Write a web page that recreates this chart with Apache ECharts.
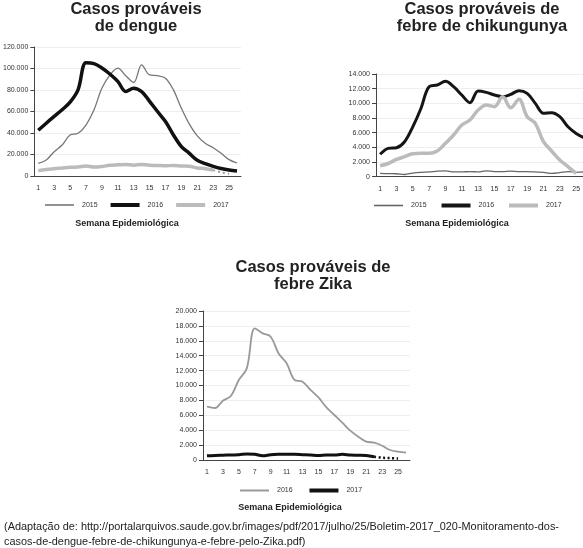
<!DOCTYPE html>
<html><head><meta charset="utf-8">
<script src="https://cdn.jsdelivr.net/npm/echarts@6/dist/echarts.min.js"></script>
<style>html,body{margin:0;padding:0;background:#fff;overflow:hidden;width:583px;height:548px}#c{width:600px;height:548px}</style>
</head><body><div id="c"></div>
<script>
const weeks = ['1','2','3','4','5','6','7','8','9','10','11','12','13','14','15','16','17','18','19','20','21','22','23','24','25','26'];

const dengue2015 = [11800,14900,22600,28800,38100,39700,47400,61400,81600,93900,100300,93300,87000,103400,94000,93300,91000,80100,63000,48300,37400,30500,26300,21100,15200,12100];
const dengue2016 = [42500,49100,55400,61600,68700,80200,105300,104500,100500,94900,88000,78700,81700,78500,69500,60000,50600,38200,27400,21100,14600,11500,9000,7000,5600,4700];
const dengue2017 = [5000,6000,6800,7500,8200,8300,9200,8300,8800,10000,10400,10800,10000,10800,10000,9800,9500,9800,9300,9000,7500,6800,5500];
const dengue2017Tail = [null,null,null,null,null,null,null,null,null,null,null,null,null,null,null,null,null,null,null,null,null,null,5500,3500,2000];

const chik2015 = [450,420,400,300,500,600,650,750,800,650,650,700,650,800,700,700,750,700,700,650,600,450,550,700,600,650];
const chik2016 = [3050,3860,3950,4770,6800,9300,12270,12500,13000,12270,11140,10090,11680,11500,11140,10900,11230,11730,11360,10000,8640,8730,8180,6800,5900,5300];
const chik2017 = [1500,1800,2360,2730,3140,3180,3180,3500,4550,5680,7050,7730,9090,9770,9550,10900,9400,10550,8180,7270,4770,3500,2270,1360,450];

const zika2016 = [7160,6980,7960,8590,10740,12300,17670,17000,16550,14300,12980,10740,10510,9400,8400,7070,6040,5010,3940,3130,2460,2330,1920,1340,1120,980];
const zika2017 = [560,620,650,680,700,820,760,560,700,760,780,760,720,680,620,680,660,760,660,640,600,450];
const zika2017Tail = [null,null,null,null,null,null,null,null,null,null,null,null,null,null,null,null,null,null,null,null,null,450,300,250,200];

const titles = ['Casos prováveis\nde dengue','Casos prováveis de\nfebre de chikungunya','Casos prováveis de\nfebre Zika'];
const xName = 'Semana Epidemiológica';
const source = '(Adaptação de: http://portalarquivos.saude.gov.br/images/pdf/2017/julho/25/Boletim-2017_020-Monitoramento-dos-\ncasos-de-dengue-febre-de-chikungunya-e-febre-pelo-Zika.pdf)';

const FONT = '"Liberation Sans", Arial, sans-serif';
const fmt = v => String(v).replace(/\B(?=(\d{3})+(?!\d))/g, '.');
const THIN = 'path://M0,0h29v1.6h-29z';
const MED = 'path://M0,0h29v2h-29z';
const THICK = 'path://M0,0h29v4h-29z';

const grids = [
  {left:32, top:47, width:209, height:129},
  {left:376, top:74, width:212.4, height:102.7},
  {left:203, top:311, width:207, height:149}
];
const yMax = [120000, 14000, 20000];
const yInt = [20000, 2000, 2000];

function xAxis(i){
  return {type:'category', gridIndex:i, data:weeks, boundaryGap:true,
    axisLine:{lineStyle:{color:'#444', width:1}}, axisTick:{show:false},
    axisLabel:{interval:1, color:'#333', fontSize:7, fontFamily:FONT, margin:9}};
}
function yAxis(i){
  return {type:'value', gridIndex:i, min:0, max:yMax[i], interval:yInt[i],
    axisLine:{show:true, lineStyle:{color:'#444', width:1}},
    axisTick:{show:true, length:4, lineStyle:{color:'#444'}},
    splitLine:{lineStyle:{color:'#eeeeee', width:1}},
    axisLabel:{color:'#333', fontSize:7, fontFamily:FONT, margin:6, formatter:fmt}};
}
function line(name, data, i, color, width, extra){
  return Object.assign({type:'line', name:name, data:data, xAxisIndex:i, yAxisIndex:i,
    smooth:0.35, symbol:'none', lineStyle:{color:color, width:width}, itemStyle:{color:color},
    connectNulls:false, legendHoverLink:false, silent:true}, extra||{});
}
function legend(items, left, top){
  return {show:true, left:left, top:top, padding:0, orient:'horizontal', itemWidth:29, itemHeight:8, itemGap:13,
    symbolKeepAspect:true,
    data:items.map(it => ({name:it[0], icon:it[1], itemStyle:{color:it[2], borderWidth:0}})),
    textStyle:{fontSize:7, color:'#333', fontFamily:FONT, padding:[0,0,0,3]},
    selectedMode:false};
}

const option = {
  animation:false,
  grid: grids,
  xAxis: [xAxis(0), xAxis(1), xAxis(2)],
  yAxis: [yAxis(0), yAxis(1), yAxis(2)],
  legend: [
    legend([['2015',THIN,'#777777'],['2016',THICK,'#111111'],['2017',THICK,'#bbbbbb']], 45, 201.5),
    legend([['2015 ',THIN,'#666666'],['2016 ',THICK,'#151515'],['2017 ',THICK,'#bbbbbb']], 374, 202),
    legend([['2016  ',MED,'#999999'],['2017  ',THICK,'#111111']], 240, 487)
  ],
  series: [
    line('2015', dengue2015, 0, '#777777', 1.3),
    line('2016', dengue2016, 0, '#111111', 3.5),
    line('2017', dengue2017, 0, '#bbbbbb', 3.5),
    line('d17tail', dengue2017Tail, 0, '#999999', 2, {lineStyle:{color:'#999999', width:2, type:[2,3]}}),
    line('2015 ', chik2015, 1, '#666666', 1.3),
    line('2016 ', chik2016, 1, '#151515', 3),
    line('2017 ', chik2017, 1, '#bbbbbb', 3.5),
    line('2016  ', zika2016, 2, '#999999', 1.8),
    line('2017  ', zika2017, 2, '#111111', 3),
    line('z17tail', zika2017Tail, 2, '#111111', 2.5, {lineStyle:{color:'#111111', width:2.5, type:[2,2.5]}})
  ],
  graphic: [
    {type:'text', x:136, y:1, style:{text:titles[0], align:'center', verticalAlign:'top', fontSize:16.5, fontWeight:'bold', fontFamily:FONT, lineHeight:17, fill:'#222'}},
    {type:'text', x:482, y:1, style:{text:titles[1], align:'center', verticalAlign:'top', fontSize:16.5, fontWeight:'bold', fontFamily:FONT, lineHeight:17, fill:'#222'}},
    {type:'text', x:313, y:259, style:{text:titles[2], align:'center', verticalAlign:'top', fontSize:16.5, fontWeight:'bold', fontFamily:FONT, lineHeight:17, fill:'#222'}},
    {type:'text', x:127, y:219, style:{text:xName, align:'center', verticalAlign:'top', fontSize:9, fontWeight:'bold', fontFamily:FONT, fill:'#222'}},
    {type:'text', x:457, y:219, style:{text:xName, align:'center', verticalAlign:'top', fontSize:9, fontWeight:'bold', fontFamily:FONT, fill:'#222'}},
    {type:'text', x:290, y:503, style:{text:xName, align:'center', verticalAlign:'top', fontSize:9, fontWeight:'bold', fontFamily:FONT, fill:'#222'}},
    {type:'text', x:4, y:520, style:{text:source, align:'left', verticalAlign:'top', fontSize:10.9, fontFamily:FONT, lineHeight:14.5, fill:'#222'}}
  ]
};
const chart = echarts.init(document.getElementById('c'), null, {renderer:'canvas'});
chart.setOption(option);
</script></body></html>
